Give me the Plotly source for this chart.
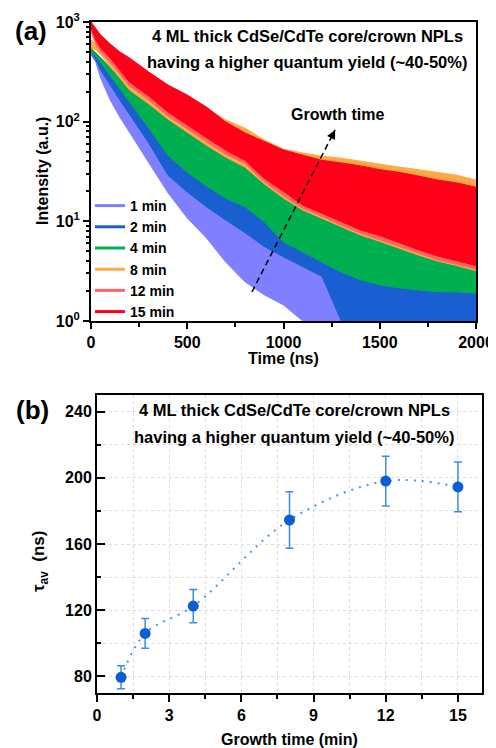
import math
import plotly.graph_objects as go

# page body keeps its default 8 px margin, so the figure starts 8 px in
OFF = 8
W, H = 496 - OFF, 748 - OFF

t_ns = [0, 25, 50, 100, 150, 200, 300, 400, 500, 600, 700, 800, 900, 1000,
        1100, 1200, 1300, 1400, 1500, 1600, 1700, 1800, 1900, 2000]

min1_hi = [523, 467, 397, 287, 208, 147, 79, 39.4, 26, 18.4, 13.0, 9.9, 7.3, 5.6, 4.3, 3.4, 2.9]
min1_lo = [467, 397, 274, 165, 111, 77, 38.5, 19.3, 10.8, 6.8, 3.9, 2.47, 1.83, 1.45, 1.0, 1.0, 1.0]

min2_hi = [523, 489, 436, 346, 262, 199, 117, 66, 41, 29, 21.6, 17.6, 13.0, 8.6,
           6.5, 5.2, 4.3, 3.6, 3.3, 3.0, 2.85, 2.7, 2.6, 2.55]
min2_lo = [500, 416, 330, 233, 165, 117, 61, 29, 19.7, 14.0, 10.3, 7.7, 5.6, 4.4,
           3.5, 2.8, 1.0, 1.0, 1.0, 1.0, 1.0, 1.0, 1.0, 1.0]

min4_hi = [548, 489, 436, 346, 274, 218, 154, 109, 83, 62.6, 46.3, 36.8, 27.2, 20.6,
           17.2, 14.6, 12.1, 10.3, 9.0, 7.8, 6.8, 5.8, 5.2, 4.6]
min4_lo = [500, 456, 397, 294, 218, 158, 86.5, 46, 31, 22.6, 17.1, 14.0, 9.9, 6.2,
           4.9, 3.9, 3.1, 2.6, 2.3, 2.15, 2.05, 1.96, 1.96, 1.9]

min8_hi = [660, 601, 561, 489, 436, 379, 287, 218, 173, 137, 104, 86, 65.5, 53,
           48.5, 45, 43, 40, 37.5, 35, 33, 31, 29, 26]
min8_lo = [548, 523, 467, 362, 274, 208, 151, 106, 79, 58, 44, 35, 23.8, 17.1,
           13.0, 10.8, 8.8, 7.3, 6.3, 5.4, 4.6, 4.0, 3.6, 3.2]

min12_hi = [930, 790, 690, 560, 465, 405, 293, 217, 172, 130, 92, 72, 59, 48,
            43, 38, 36, 33.5, 31, 29, 27, 24, 23, 20.5]
min12_lo = [800, 600, 500, 395, 300, 228, 166, 114, 85, 63, 47, 38, 25, 18,
            13.5, 11.2, 9.1, 7.6, 6.6, 5.6, 4.8, 4.1, 3.7, 3.3]

min15_hi = [1000, 851, 741, 601, 500, 436, 315, 233, 185, 140, 99, 77, 63, 52,
            46, 41, 38.5, 36, 33, 31, 28.5, 26, 24.3, 22]
min15_lo = [870, 659, 548, 436, 330, 250, 181, 125, 93, 69, 52, 41, 27, 20,
            14.6, 12.1, 9.9, 8.2, 7.2, 6.1, 5.2, 4.5, 4.0, 3.6]

series_names = ["1 min", "2 min", "4 min", "8 min", "12 min", "15 min"]
series_hi = [min1_hi, min2_hi, min4_hi, min8_hi, min12_hi, min15_hi]
series_lo = [min1_lo, min2_lo, min4_lo, min8_lo, min12_lo, min15_lo]
series_colors = ["#8080FF", "#1A5FD2", "#00B050", "#FFA845", "#FF6464", "#FF0018"]

# dashed "Growth time" arrow (time ns, intensity)
arrow_t = [836, 1268]
arrow_i = [1.96, 82.6]

# ---- panel (b): average lifetime vs growth time
growth_min = [1, 2, 4, 8, 12, 15]
tau_ns = [79.5, 106, 122.5, 174.5, 198, 194.5]
tau_err = [7, 9, 10, 17, 15, 15]

title_l1 = "4 ML thick CdSe/CdTe core/crown NPLs"
title_l2 = "having a higher quantum yield (~40-50%)"

FONT = "Liberation Sans, Arial, sans-serif"


def px(x, y):
    # page pixel position -> paper fraction
    return (x - OFF) / W, 1 - (y - OFF) / H


fig = go.Figure()

# filled bands, drawn 1 min first so that 15 min ends on top
for name, hi, lo, col in zip(series_names, series_hi, series_lo, series_colors):
    tt = t_ns[:len(hi)]
    fig.add_trace(go.Scatter(
        x=tt + tt[::-1], y=hi + lo[::-1], fill="toself", fillcolor=col,
        mode="lines", line=dict(color=col, width=1), hoverinfo="skip",
        showlegend=False, xaxis="x", yaxis="y"))

# legend entries (line symbols)
for name, col in zip(series_names, series_colors):
    fig.add_trace(go.Scatter(x=[None], y=[None], mode="lines", name=name,
                             line=dict(color=col, width=3), xaxis="x", yaxis="y"))

fig.add_trace(go.Scatter(x=arrow_t, y=arrow_i, mode="lines", showlegend=False,
                         line=dict(color="black", width=1.5, dash="6px,4px"),
                         xaxis="x", yaxis="y"))

fig.add_trace(go.Scatter(
    x=growth_min, y=tau_ns, mode="lines+markers", showlegend=False,
    line=dict(color="#4A98E6", width=2, dash="2px,6px", shape="spline"),
    marker=dict(size=11, color="#0B5FD3"),
    error_y=dict(type="data", array=tau_err, color="#3C8DE0", thickness=1.5, width=4),
    xaxis="x2", yaxis="y2"))

axis_common = dict(showline=True, linecolor="black", linewidth=2, mirror=True,
                   zeroline=False, tickwidth=1.5, tickcolor="black", automargin=False,
                   ticklabeloverflow="allow", tickfont=dict(size=16, color="black"))

log_minor = [m * 10 ** d for d in range(3) for m in range(2, 10)]

grid = dict(showgrid=True, gridcolor="#dcdcdc", griddash="dot", gridwidth=1)

xa0, ya0 = px(91, 321)
xa1, ya1 = px(476, 22)
xb0, yb0 = px(97, 693)
xb1, yb1 = px(482, 395)
lx, ly = px(90, 190)

fig.update_layout(
    width=W, height=H, margin=dict(l=0, r=0, t=0, b=0, autoexpand=False),
    paper_bgcolor="white", plot_bgcolor="white",
    font=dict(family=FONT, color="black", weight="bold"),
    xaxis=dict(domain=[xa0, xa1], range=[0, 2000], anchor="y",
               dtick=500, ticks="outside", ticklen=6, showgrid=False,
               minor=dict(dtick=250, ticks="outside", ticklen=3.5), **axis_common),
    yaxis=dict(domain=[ya0, ya1], type="log", range=[0, 3], anchor="x",
               tickvals=[1, 10, 100, 1000],
               ticktext=["10<sup>0</sup>", "10<sup>1</sup>", "10<sup>2</sup>", "10<sup>3</sup>"],
               ticks="outside", ticklen=6, showgrid=False,
               minor=dict(tickvals=log_minor, ticks="outside", ticklen=3), **axis_common),
    xaxis2=dict(domain=[xb0, xb1], range=[0, 16], anchor="y2",
                tick0=0, dtick=3, ticks="outside", ticklen=7,
                minor=dict(dtick=1.5, ticks="outside", ticklen=4, **grid),
                **grid, **axis_common),
    yaxis2=dict(domain=[yb0, yb1], range=[70, 250], anchor="x2",
                tickvals=[80, 120, 160, 200, 240], ticks="inside", ticklen=8,
                minor=dict(tickvals=[100, 140, 180, 220], ticks="inside", ticklen=4, **grid),
                **grid, **axis_common),
    legend=dict(x=lx, y=ly, xanchor="left", yanchor="top",
                bgcolor="rgba(0,0,0,0)", font=dict(size=14, family=FONT, weight="bold"),
                tracegroupgap=0, itemwidth=30),
)

ann = []


def label(text, x, y, size, **kw):
    ax, ay = px(x, y)
    ann.append(dict(text=text, x=ax, y=ay, xref="paper", yref="paper",
                    xanchor="center", yanchor="middle", showarrow=False,
                    font=dict(size=size, family=FONT, weight="bold"), **kw))


label("(a)", 31, 31, 26)
label("(b)", 32, 410, 26)
label(title_l1, 307, 36, 16.5)
label(title_l2, 307, 62, 16.5)
label(title_l1, 294, 410, 16.5)
label(title_l2, 294, 437, 16.5)
label("Growth time", 337, 115, 16)
label("Time (ns)", 283.5, 359, 16)
label("Intensity (a.u.)", 43, 171, 16, textangle=-90)
label("Growth time (min)", 289.5, 739, 16)
label("τ<sub>av</sub>  (ns)", 40, 562, 17, textangle=-90)

# arrow head of the dashed growth-time arrow
ann.append(dict(x=arrow_t[1], y=math.log10(arrow_i[1]), xref="x", yref="y",
                text="", showarrow=True, arrowhead=2, arrowsize=1.2, arrowwidth=1.5,
                arrowcolor="black", ax=-5, ay=10))

fig.update_layout(annotations=ann)

fig.write_html("out.html")
